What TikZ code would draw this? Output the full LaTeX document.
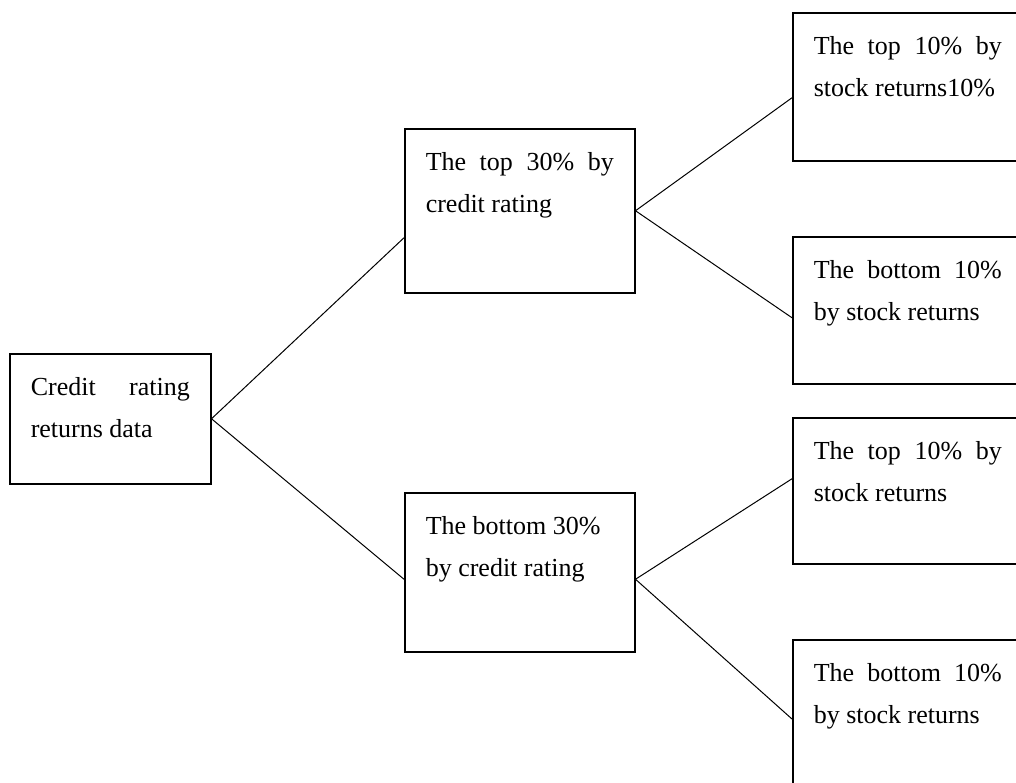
\documentclass[tikz,border=0pt]{standalone}
\usepackage{fontspec}
\setmainfont{Liberation Serif}
\usepackage{tikz}
\newcommand{\fillline}[1]{\makebox[\linewidth][s]{#1}}
\newcommand{\celltext}[3]{\parbox[t]{#1}{#2\\#3}}

\begin{document}
\begin{tikzpicture}[
  cell/.style={draw, line width=0.75pt, anchor=north west, inner xsep=10.5pt, inner ysep=0pt, text height=21pt, font=\fontsize{13}{21}\selectfont},
  link/.style={line width=0.5pt}
]
\useasboundingbox (0,0) rectangle (508pt,-391pt);
\clip (0,0) rectangle (508pt,-391pt);
\node[cell, text depth=44pt] (data) at (4.5pt,-176.5pt) {\celltext{79.5pt}{\fillline{Credit rating}}{returns data}};
\node[cell, text depth=61pt] (top30) at (202pt,-64pt) {\celltext{94pt}{\fillline{The top 30\% by}}{credit rating}};
\node[cell, text depth=58.5pt] (bot30) at (202pt,-246pt) {\celltext{94pt}{The bottom 30\%}{by credit rating}};
\node[cell, text depth=53pt] (topA) at (396pt,-6pt) {\celltext{94pt}{\fillline{The top 10\% by}}{stock returns10\%}};
\node[cell, text depth=52.5pt] (botA) at (396pt,-118pt) {\celltext{94pt}{\fillline{The bottom 10\%}}{by stock returns}};
\node[cell, text depth=52pt] (topB) at (396pt,-208.5pt) {\celltext{94pt}{\fillline{The top 10\% by}}{stock returns}};
\node[cell, text depth=62pt] (botB) at (396pt,-319.5pt) {\celltext{94pt}{\fillline{The bottom 10\%}}{by stock returns}};
\draw[link] (data.east) -- ([yshift=-13.5pt]top30.west);
\draw[link] (data.east) -- ([yshift=-3.5pt]bot30.west);
\draw[link] (top30.east) -- ([yshift=-5.5pt]topA.west);
\draw[link] (top30.east) -- ([yshift=-3.75pt]botA.west);
\draw[link] ([yshift=-3.5pt]bot30.east) -- ([yshift=6pt]topB.west);
\draw[link] ([yshift=-3.5pt]bot30.east) -- ([yshift=-40pt]botB.north west);
\end{tikzpicture}
\end{document}
